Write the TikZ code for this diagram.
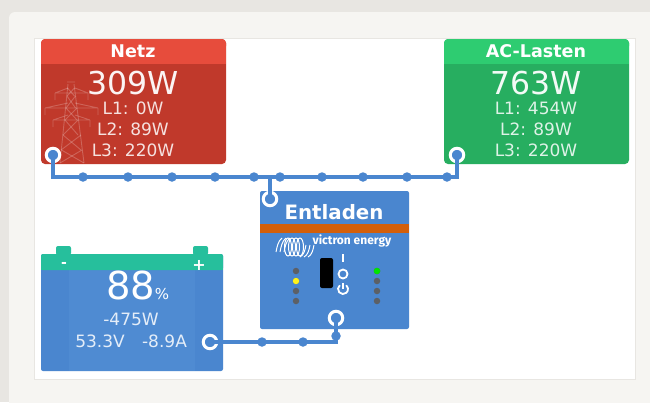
\documentclass[tikz,border=0pt]{standalone}
\usepackage{fontspec}
\setmainfont{DejaVu Sans}
\newfontfamily\logofont{Fira Sans}
\definecolor{pagebg}{HTML}{F6F5F2}
\definecolor{topbg}{HTML}{E8E6E2}
\definecolor{netzhead}{HTML}{E74C3C}
\definecolor{netzbody}{HTML}{C0392B}
\definecolor{lastenhead}{HTML}{2ECC71}
\definecolor{lastenbody}{HTML}{27AE60}
\definecolor{unitblue}{HTML}{4A86CF}
\definecolor{innerblue}{HTML}{4F8BD2}
\definecolor{batthead}{HTML}{26BF9C}
\definecolor{bandorange}{HTML}{D35F0A}
\definecolor{ledgrey}{HTML}{5C6066}
\tikzset{
  panel/.style={rectangle, rounded corners=4pt, inner sep=0pt},
  wire/.style={draw=unitblue, line width=3.6pt},
  dot/.style={circle, fill=unitblue, inner sep=0pt, minimum size=9.5pt},
  port/.style={circle, draw=white, line width=3pt, fill=unitblue, inner sep=0pt, minimum size=13.5pt},
  led/.style={circle, fill=ledgrey, inner sep=0pt, minimum size=6.5pt},
  label/.style={text=white, inner sep=0pt},
  small/.style={label, text opacity=.85, font=\fontsize{17}{17}\selectfont},
  big/.style={label, text opacity=.95, font=\fontsize{31.5}{31.5}\selectfont},
  head/.style={label, font=\fontsize{17.5}{17.5}\selectfont\bfseries}
}
\begin{document}
\begin{tikzpicture}[x=1pt, y=-1pt]
  \useasboundingbox (0,0) rectangle (650,402);
  % Page and panel
  \fill[topbg] (0,0) rectangle (650,402);
  \fill[pagebg, rounded corners=6pt] (9,12) rectangle (660,420);
  \draw[topbg, fill=white] (34.5,38.5) rectangle (635.5,379);
  % Netz and AC-Lasten boxes
  \node[panel, fill=netzbody, minimum width=185pt, minimum height=125pt] (netz) at (133.5,101.5) {};
  \node[panel, fill=lastenbody, minimum width=185pt, minimum height=125pt] (lasten) at (536.5,101.5) {};
  \foreach \l/\r/\c in {41/226/netzhead, 444/629/lastenhead}{
    \fill[\c, rounded corners=4pt] (\l,50) -- (\l,39) -- (\r,39) -- (\r,50) -- cycle;
    \fill[\c] (\l,45) rectangle (\r,64);
  }
  \node[head] (netztitle) at (133,51) {Netz};
  \node[head] (lastentitle) at (536,51) {AC-Lasten};
  % Pylon
  \begin{scope}[draw=white, draw opacity=.22, line width=.9pt]
    \draw (68,84) -- (60,163) (74,84) -- (84,163) (67,82) -- (75,82);
    \foreach \a/\b/\c/\d in {67.5/88/74.5/96, 74.5/88/67/96, 67/96/75.5/108, 75.5/96/66/108, 66/108/77/120, 77/108/65/120, 65/120/78/135, 78/120/63/135, 63/135/81/150, 81/135/61/150, 61.5/150/84/163, 82/150/60/163}{
      \draw (\a,\b) -- (\c,\d);
    }
    \foreach \l/\r/\y in {55/88/93, 45/98/108, 53/90/120}{
      \draw (\l,\y) -- (\r,\y) (\l,\y) -- (68,\y-5) (\r,\y) -- (75,\y-5) (\l,\y) -- (\l,\y+7) (\r,\y) -- (\r,\y+7);
    }
  \end{scope}
  \node[big] (netzpower) at (133,83) {309W};
  \node[small] (netzla) at (133,108) {L1: 0W};
  \node[small] (netzlb) at (133,129) {L2: 89W};
  \node[small] (netzlc) at (133,150) {L3: 220W};
  \node[big] (lastenpower) at (536,83) {763W};
  \node[small] (lastenla) at (536,108) {L1: 454W};
  \node[small] (lastenlb) at (536,129) {L2: 89W};
  \node[small] (lastenlc) at (536,150) {L3: 220W};
  % Converter
  \node[panel, fill=unitblue, rounded corners=2pt, minimum width=149pt, minimum height=138pt] (unit) at (334.5,260) {};
  \fill[bandorange] (260,224) rectangle (409,233);
  \node[label, font=\fontsize{19.8}{19.8}\selectfont\bfseries] (unittitle) at (334,212) {Entladen};
  \node[label, font=\logofont\fontsize{12}{12}\selectfont\bfseries] (logotext) at (352,241) {victron energy};
  \foreach \x in {288,292,296,300}{
    \draw[white, line width=1pt] (\x,247) ellipse (3.5pt and 9pt);
  }
  \foreach \x in {279,283,287}{
    \draw[white, line width=1pt] (\x+3,238) .. controls (\x-1,241) and (\x-2,247) .. (\x-3,252);
  }
  \foreach \x in {303,307,311}{
    \draw[white, line width=1pt] (\x-3,257) .. controls (\x+1,255) and (\x+2,250) .. (\x+3,245);
  }
  \fill[black, rounded corners=2pt] (320,258) rectangle (333,288);
  \draw[white, line width=1.8pt] (343,254) -- (343,262);
  \node[circle, draw=white, line width=1.8pt, inner sep=0pt, minimum size=9pt] (onring) at (343,274) {};
  \draw[white, line width=1.8pt] (339.8,285.2) arc[start angle=130, end angle=410, radius=5pt];
  \draw[white, line width=1.8pt] (343,283) -- (343,289);
  \foreach \y [count=\n] in {271,281,291,301}{
    \node[led] (ledl\n) at (296,\y) {};
    \node[led] (ledr\n) at (377,\y) {};
  }
  \node[led, fill=yellow!90!white] (ledy) at (ledl2) {};
  \node[led, fill=green!90!black] (ledg) at (ledr1) {};
  % Battery
  \node[panel, fill=unitblue, rounded corners=2pt, minimum width=182pt, minimum height=117pt] (batt) at (132,312.5) {};
  \fill[innerblue] (69,270) rectangle (195,371);
  \fill[batthead, rounded corners=2pt] (41,270) -- (41,254) -- (223,254) -- (223,270) -- cycle;
  \fill[batthead] (41,264) rectangle (223,270);
  \fill[batthead, rounded corners=2pt] (56,255) -- (56,246) -- (71,246) -- (71,255) -- cycle;
  \fill[batthead, rounded corners=2pt] (193,255) -- (193,246) -- (208,246) -- (208,255) -- cycle;
  \node[label, font=\fontsize{14}{14}\selectfont\bfseries] (minus) at (64,265) {-};
  \node[label, font=\fontsize{16}{16}\selectfont\bfseries] (plus) at (199,265) {+};
  \node[label, font=\fontsize{38.5}{38.5}\selectfont] (soc) at (131,285) {88};
  \node[label, font=\fontsize{15}{15}\selectfont] (socunit) at (162,294) {\%};
  \node[small] (battpower) at (131,319) {-475W};
  \node[small] (battvolt) at (100,341) {53.3V};
  \node[small] (battamp) at (164.5,341) {-8.9A};
  % Ports
  \node[port] (pnetz) at (53,155) {};
  \node[port] (plasten) at (457,155) {};
  \node[port] (ptop) at (270,199) {};
  \node[port] (pbot) at (336,318) {};
  \node[port] (pbatt) at (210,342) {};
  % Bus and wires
  \coordinate (busl) at (53,177);
  \coordinate (busr) at (457,177);
  \coordinate (busm) at (270,177);
  \coordinate (turn) at (336,342);
  \draw[wire] (pnetz.center) -- (busl) -- (busr) -- (plasten.center);
  \draw[wire] (busm) -- (ptop.center);
  \draw[wire] (pbatt.center) -- (turn) -- (pbot.center);
  \foreach \x in {83,128,172,215,254,280,322,363,407,447}{
    \node[dot] (b\x) at (\x,177) {};
  }
  \foreach \x in {262,303}{
    \node[dot] (c\x) at (\x,342) {};
  }
  \node[dot] (cturn) at (336,336) {};
\end{tikzpicture}
\end{document}
